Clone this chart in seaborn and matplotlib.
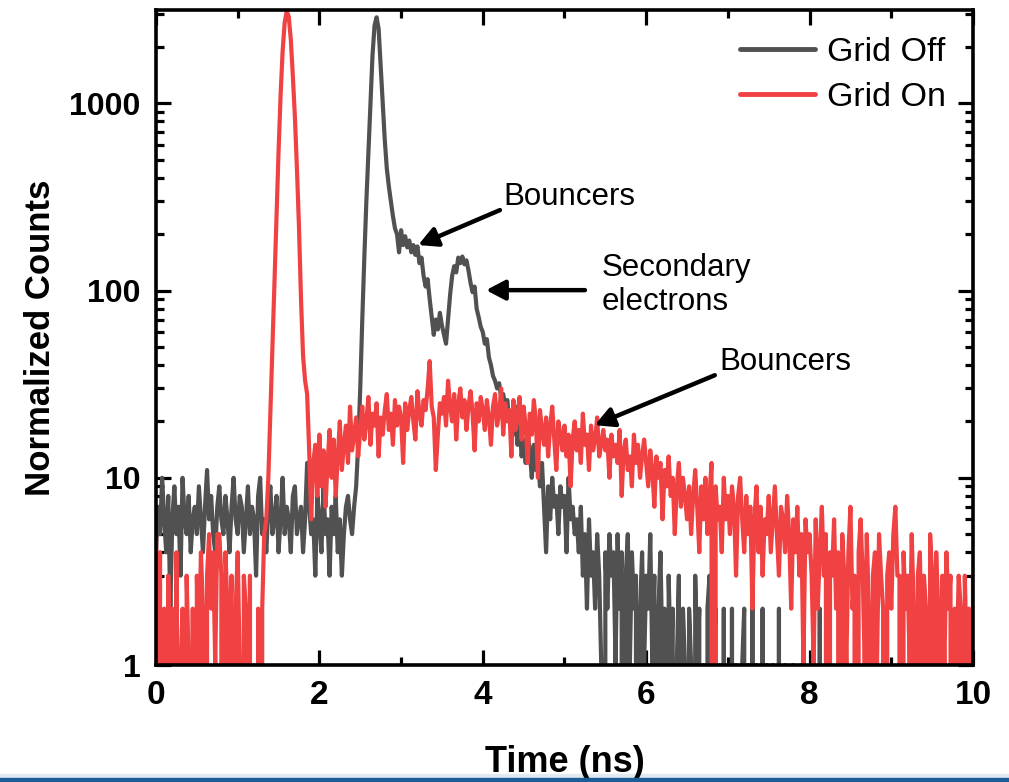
import numpy as np
import pandas as pd
import matplotlib
matplotlib.use("Agg")
import matplotlib.pyplot as plt
import seaborn as sns
from matplotlib.ticker import MultipleLocator, LogLocator, FuncFormatter, NullFormatter
from matplotlib.patches import Rectangle

# Time-of-flight spectra, 25 ps bins
bin_width_ns = 0.025

grid_off = [
    # 0.0 - 2.425 ns : background
    4, 7, 5, 10, 6, 4, 8, 2, 6, 9, 5, 7, 3, 10, 6, 5, 8, 4, 6, 7,
    5, 9, 6, 4, 7, 11, 6, 8, 5, 4, 7, 9, 6, 5, 8, 6, 4, 7, 10, 6,
    5, 8, 7, 4, 6, 9, 5, 7, 6, 3, 8, 10, 5, 6, 4, 7, 9, 5, 6, 8,
    4, 6, 10, 5, 7, 6, 4, 8, 9, 5, 6, 7, 4, 6, 12, 7, 5, 6, 3, 8,
    6, 4, 9, 5, 6, 3, 7, 5, 8, 4, 6, 3, 5, 7, 8, 6, 5, 7,
    # 2.45 - 2.9 ns : primary peak
    9, 15, 30, 70, 150, 300, 550, 1000, 1800, 2600, 2880, 2500, 1600, 1000,
    640, 450, 360, 300, 250,
    # 2.925 - 3.55 ns : bouncers shoulder
    215, 200, 160, 210, 175, 195, 170, 185, 160, 175, 155, 172, 140, 150,
    120, 105, 115, 90, 72, 58, 70, 62, 76, 65, 58, 52,
    # 3.575 - 4.0 ns : secondary electrons
    70, 95, 120, 135, 125, 150, 140, 152, 138, 145, 128, 110, 98, 105,
    80, 72, 64, 60,
    # 4.025 - 6.0 ns : decay
    52, 55, 44, 40, 35, 33, 30, 32, 27, 28, 24, 26, 20, 22, 17, 24, 15, 20,
    13, 16, 12, 17, 14, 10, 15, 11, 13, 9, 12, 7, 4, 9, 6, 10, 7, 8, 5, 9,
    7, 8, 4, 10, 6, 7, 5, 6, 4, 7, 3, 5, 2, 6, 3, 4, 2, 5, 3, 1, 0, 4, 2, 5,
    3, 4, 1, 5, 2, 4, 0, 3, 5, 1, 4, 2, 3, 0, 2, 4, 1, 3,
    # 6.025 - 10.0 ns : tail
    2, 5, 1, 3, 0, 2, 4, 1, 2, 0, 3, 1, 2, 0, 1, 3, 0, 2, 1, 0,
    2, 1, 0, 3, 1, 2, 0, 1, 0, 2, 3, 0, 1, 2, 0, 1, 0, 2, 0, 1,
    0, 2, 0, 1, 0, 0, 1, 2, 0, 1, 0, 3, 0, 1, 0, 0, 2, 0, 1, 0,
    0, 1, 0, 0, 2, 0, 0, 1, 0, 0, 0, 1, 0, 0, 0, 1, 0, 0, 0, 0,
    0, 1, 0, 0, 2, 0, 0, 0, 1, 0, 0, 0, 0, 0, 0, 0, 0, 0, 0, 0,
    0, 0, 0, 0, 0, 0, 0, 0, 0, 0, 0, 0, 0, 0, 0, 0, 0, 0, 0, 0,
    0, 0, 0, 0, 0, 0, 0, 0, 0, 0, 0, 0, 0, 0, 0, 0, 0, 0, 0, 0,
    0, 0, 0, 0, 0, 0, 0, 0, 0, 0, 0, 0, 0, 0, 0, 0, 0, 0, 0, 0,
]

grid_on = [
    # 0.0 - 1.275 ns : background
    5, 1, 4, 0, 2, 0, 3, 1, 2, 0, 4, 0, 1, 2, 0, 3, 1, 0, 2, 0,
    3, 1, 4, 2, 0, 3, 5, 2, 4, 1, 5, 5, 3, 0, 4, 2, 1, 3, 0, 2,
    4, 1, 0, 3, 2, 0, 3, 0, 1, 0, 2, 0,
    # 1.3 - 1.975 ns : primary peak
    2, 5, 6, 10, 22, 50, 110, 250, 550, 1100, 1900, 2700, 3100, 2900, 2200,
    1400, 850, 450, 220, 90, 45, 33, 28, 14, 6, 12, 15, 8,
    # 2.0 - 10.0 ns : bouncers continuum
    17, 9, 14, 7, 12, 18, 10, 16, 8, 13, 20, 11, 15, 19, 12, 24, 14, 17, 21, 13,
    18, 24, 16, 20, 27, 15, 22, 19, 25, 13, 21, 17, 23, 28, 18, 22, 15, 26, 19, 24,
    21, 12, 25, 18, 23, 27, 20, 16, 29, 22, 19, 26, 23, 30, 42, 24, 21, 11, 17, 25,
    22, 27, 19, 33, 24, 20, 28, 16, 25, 30, 21, 26, 18, 24, 29, 22, 14, 25, 20, 27,
    23, 18, 26, 21, 15, 24, 28, 19, 22, 30, 17, 25, 20, 23, 13, 26, 18, 21, 27, 16,
    24, 19, 12, 22, 17, 26, 20, 10, 23, 18, 15, 21, 13, 19, 24, 16, 11, 20, 17, 14,
    19, 13, 17, 9, 16, 20, 14, 18, 12, 22, 15, 17, 11, 19, 14, 16, 21, 13, 15, 18,
    14, 16, 10, 17, 13, 15, 12, 18, 8, 14, 16, 11, 13, 9, 17, 12, 15, 10, 13, 16,
    12, 9, 14, 11, 7, 13, 10, 12, 6, 11, 9, 13, 8, 10, 5, 9, 12, 7, 10, 8,
    6, 9, 5, 8, 11, 7, 4, 9, 6, 10, 5, 8, 12, 0, 9, 6, 7, 4, 10, 6,
    8, 5, 9, 7, 3, 8, 10, 6, 4, 8, 5, 7, 2, 6, 9, 4, 7, 3, 6, 5,
    8, 4, 6, 9, 5, 3, 7, 6, 4, 8, 5, 2, 6, 4, 7, 3, 5, 1, 6, 4,
    5, 3, 1, 6, 2, 4, 7, 3, 5, 0, 4, 3, 6, 2, 4, 0, 5, 3, 1, 4,
    7, 2, 3, 0, 4, 6, 3, 1, 5, 2, 0, 3, 4, 1, 5, 3, 2, 0, 3, 4,
    2, 5, 7, 3, 3, 0, 4, 2, 3, 1, 5, 2, 0, 3, 4, 1, 3, 2, 0, 5,
    3, 1, 4, 2, 0, 3, 1, 4, 2, 3, 0, 2, 1, 3, 2, 0, 3, 1, 2, 0, 3,
]

series_names = ["Grid Off", "Grid On"]
series_colors = ["#515151", "#F04242"]

frames = []
for name, counts in zip(series_names, [grid_off, grid_on]):
    t = np.arange(len(counts)) * bin_width_ns
    frames.append(pd.DataFrame({"Time": t, "Counts": counts, "Series": name}))
df = pd.concat(frames, ignore_index=True)

sns.set_theme(style="ticks")
plt.rcParams["font.family"] = ["Liberation Sans", "DejaVu Sans"]
plt.rcParams.update({"text.color": "black", "axes.labelcolor": "black",
                     "xtick.color": "black", "ytick.color": "black"})

fig = plt.figure(figsize=(10.09, 7.82), dpi=100)
ax = fig.add_axes([0.1546, 0.1496, 0.8097, 0.8376])

sns.lineplot(data=df, x="Time", y="Counts", hue="Series", hue_order=series_names,
             palette=series_colors, estimator=None, sort=False, linewidth=3.0,
             ax=ax)

ax.set_yscale("log")
ax.set_xlim(0, 10)
ax.set_ylim(1, 3150)

ax.xaxis.set_major_locator(MultipleLocator(2))
ax.xaxis.set_minor_locator(MultipleLocator(1))
ax.yaxis.set_major_locator(LogLocator(base=10, numticks=10))
ax.yaxis.set_minor_locator(LogLocator(base=10, subs=np.arange(2, 10), numticks=20))
ax.yaxis.set_major_formatter(FuncFormatter(lambda v, p: f"{v:g}"))
ax.yaxis.set_minor_formatter(NullFormatter())

ax.tick_params(which="both", direction="in", top=True, right=True, width=2.3,
               color="black", labelcolor="black")
ax.tick_params(which="major", length=11, pad=11)
ax.tick_params(which="minor", length=6)
for lab in ax.get_xticklabels():
    lab.set_fontsize(24)
    lab.set_fontweight("bold")
for lab in ax.get_yticklabels():
    lab.set_fontsize(23)
    lab.set_fontweight("bold")

for sp in ax.spines.values():
    sp.set_linewidth(2.6)
    sp.set_color("black")

ax.set_xlabel("Time (ns)", fontsize=26, fontweight="bold", labelpad=24,
              color="black")
ax.set_ylabel("Normalized Counts", fontsize=25, fontweight="bold", labelpad=9,
              color="black")

leg = ax.legend(loc="upper right", bbox_to_anchor=(0.992, 0.99), frameon=False,
                fontsize=24.5, handlelength=2.2, handletextpad=0.35,
                labelspacing=0.42, borderaxespad=0.2)
for line in leg.get_lines():
    line.set_linewidth(3.5)
for txt in leg.get_texts():
    txt.set_color("black")

arrow_style = dict(arrowstyle="-|>,head_length=0.95,head_width=0.5",
                   color="black", lw=3.2, shrinkA=0, shrinkB=0)

ax.annotate("", xy=(3.21, 175), xytext=(4.21, 269), arrowprops=arrow_style)
ax.text(4.25, 315, "Bouncers", fontsize=22.5, va="center", ha="left")

ax.annotate("", xy=(4.04, 100.5), xytext=(5.25, 100.5), arrowprops=arrow_style)
ax.text(5.45, 107, "Secondary\nelectrons", fontsize=22.5, va="center", ha="left",
        linespacing=1.2)

ax.annotate("", xy=(5.37, 19.1), xytext=(6.84, 35.3), arrowprops=arrow_style)
ax.text(6.90, 41.5, "Bouncers", fontsize=22.5, va="center", ha="left")

# slide footer band
fig.patches.append(Rectangle((0, 4 / 782), 1, 4 / 782, transform=fig.transFigure,
                             color="#E2EAF1", zorder=-1))
fig.patches.append(Rectangle((0, 0), 1, 4 / 782, transform=fig.transFigure,
                             color="#1B5E97", zorder=10))

fig.savefig("out.png", dpi=100)
